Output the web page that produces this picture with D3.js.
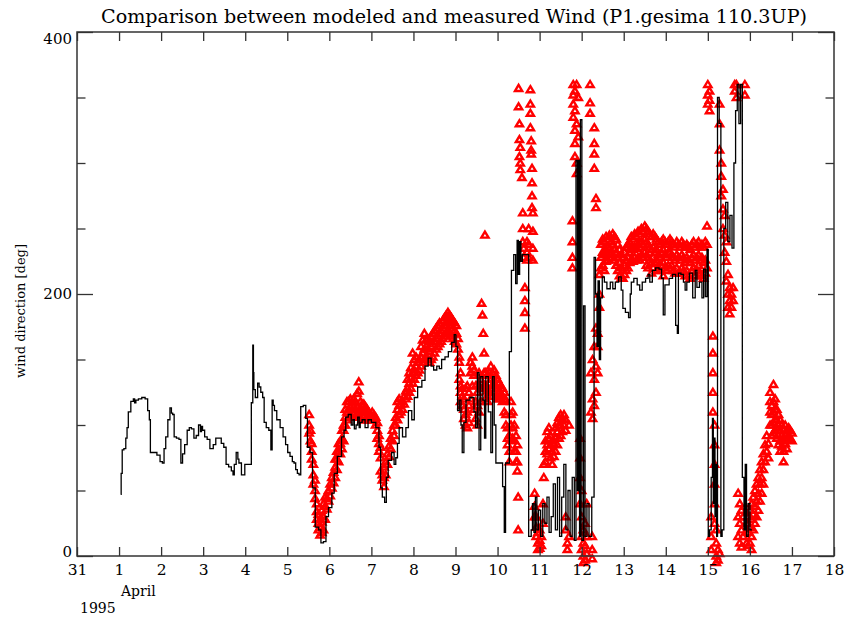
<!DOCTYPE html>
<html><head><meta charset="utf-8">
<script src="https://cdn.jsdelivr.net/npm/d3@7"></script>
<style>body{margin:0;background:#fff}svg{display:block}</style>
</head><body><svg id="c" width="846" height="622"></svg>
<script>
const titleText = "Comparison between modeled and measured Wind  (P1.gesima 110.3UP)";
const yLabelText = "wind direction [deg]";
const monthLabel = "April";
const yearLabel = "1995";
const xTickDays = [0,1,2,3,4,5,6,7,8,9,10,11,12,13,14,15,16,17,18];
const xTickLabels = ["31","1","2","3","4","5","6","7","8","9","10","11","12","13","14","15","16","17","18"];
const yMajorTicks = [0,200,400];
const yMinorTicks = [50,100,150,250,300,350];

// modeled wind direction: [day since 31 March, degrees]
const model = [
[1.04,47],[1.06,63],[1.09,81],[1.14,82],[1.18,90],[1.20,98],[1.24,110],[1.32,118],[1.36,120],[1.38,117],[1.42,119],[1.50,120],[1.58,121],[1.66,120],[1.70,111],[1.74,104],[1.75,79],[1.86,79],[1.94,77],[2.01,72],[2.05,71],[2.09,82],[2.13,91],[2.19,104],[2.23,113],[2.26,109],[2.29,108],[2.33,91],[2.40,90],[2.45,89],[2.49,71],[2.53,78],[2.59,85],[2.65,96],[2.69,98],[2.75,97],[2.81,90],[2.86,92],[2.92,100],[2.95,95],[2.97,99],[3.00,96],[3.07,91],[3.12,89],[3.20,82],[3.28,85],[3.32,90],[3.40,90],[3.46,86],[3.52,83],[3.57,70],[3.64,68],[3.70,65],[3.72,62],[3.76,70],[3.81,79],[3.84,74],[3.86,71],[3.96,62],[4.02,70],[4.07,70],[4.12,70],[4.17,117],[4.19,161],[4.20,140],[4.21,127],[4.27,121],[4.32,132],[4.34,129],[4.40,125],[4.43,121],[4.47,102],[4.53,98],[4.59,96],[4.63,81],[4.65,119],[4.68,115],[4.71,111],[4.79,104],[4.87,98],[4.93,91],[4.99,85],[5.03,79],[5.10,76],[5.14,72],[5.18,71],[5.22,66],[5.26,63],[5.30,62],[5.34,114],[5.42,115],[5.46,105],[5.50,83],[5.58,79],[5.62,52],[5.71,22],[5.78,20],[5.82,10],[5.90,11],[5.94,30],[6.02,37],[6.10,48],[6.13,63],[6.25,76],[6.33,91],[6.37,96],[6.41,106],[6.49,108],[6.55,100],[6.57,104],[6.62,97],[6.65,100],[6.70,106],[6.72,98],[6.75,102],[6.81,104],[6.89,98],[6.95,104],[7.05,102],[7.16,98],[7.20,83],[7.24,52],[7.28,45],[7.35,41],[7.36,60],[7.44,73],[7.52,79],[7.56,70],[7.60,75],[7.64,86],[7.68,98],[7.80,91],[7.84,98],[7.92,111],[8.00,104],[8.04,121],[8.16,129],[8.24,134],[8.31,145],[8.39,151],[8.45,145],[8.51,142],[8.60,145],[8.63,143],[8.71,150],[8.79,152],[8.87,156],[8.95,163],[8.99,169],[9.03,160],[9.07,111],[9.11,119],[9.15,100],[9.17,79],[9.23,102],[9.27,119],[9.42,121],[9.46,110],[9.50,98],[9.54,140],[9.58,81],[9.62,137],[9.68,119],[9.70,90],[9.74,137],[9.82,110],[9.86,79],[9.90,137],[9.94,100],[9.98,71],[10.10,71],[10.14,53],[10.18,18],[10.20,71],[10.26,71],[10.30,156],[10.36,218],[10.41,230],[10.45,208],[10.48,241],[10.51,215],[10.54,240],[10.57,225],[10.61,230],[10.69,230],[10.79,15],[10.81,20],[10.85,40],[10.88,18],[10.92,45],[10.95,20],[11.00,35],[11.05,15],[11.10,40],[11.15,25],[11.20,45],[11.25,18],[11.30,30],[11.35,55],[11.40,20],[11.45,60],[11.50,15],[11.55,45],[11.60,70],[11.65,20],[11.70,50],[11.75,15],[11.80,60],[11.85,12],[11.88,302],[11.92,50],[11.94,302],[11.96,15],[11.98,333],[12.03,12],[12.06,191],[12.10,15],[12.15,40],[12.20,15],[12.28,45],[12.31,228],[12.35,200],[12.38,160],[12.40,210],[12.44,150],[12.46,197],[12.52,213],[12.56,209],[12.64,204],[12.72,209],[12.76,204],[12.84,209],[12.92,213],[12.96,203],[13.00,189],[13.08,186],[13.15,182],[13.16,200],[13.20,209],[13.28,212],[13.36,207],[13.40,203],[13.48,209],[13.56,212],[13.60,215],[13.64,209],[13.72,218],[13.80,220],[13.88,219],[13.92,212],[13.96,184],[14.00,207],[14.04,207],[14.12,212],[14.20,215],[14.27,176],[14.28,170],[14.32,216],[14.40,215],[14.44,209],[14.48,203],[14.52,209],[14.60,216],[14.68,197],[14.72,218],[14.76,205],[14.84,209],[14.88,197],[14.92,219],[14.96,198],[15.00,234],[15.02,15],[15.06,20],[15.10,60],[15.12,105],[15.14,40],[15.16,90],[15.18,30],[15.20,70],[15.22,15],[15.24,350],[15.30,330],[15.32,15],[15.36,20],[15.40,250],[15.45,270],[15.50,240],[15.55,260],[15.60,235],[15.64,300],[15.68,340],[15.72,360],[15.76,330],[15.80,360],[15.84,60],[15.88,20],[15.90,70],[15.94,15],[15.98,40],[16.02,20],[16.05,20]
];

// measured wind direction: [day, values observed around that time...]
const measured = [
[5.52,108,100,94],[5.55,96,88],[5.58,86,80,74],[5.62,70,62,55],[5.66,58,50,44],[5.70,40,34,28],[5.74,32,25,20],[5.78,22,16,28],[5.82,18,26,35],[5.86,20,30,40],[5.90,28,38,45],[5.94,36,44],[5.98,42,50],[6.02,46,55],[6.06,52,60],[6.10,56,64],[6.14,60,68,74],[6.18,66,74,80],[6.22,72,80,86],[6.26,78,86],[6.30,82,90,96],[6.34,88,96,100],[6.38,100,106,112],[6.42,104,110,118],[6.46,106,112,118],[6.50,108,114,120],[6.54,106,112,118],[6.58,108,114,120],[6.62,106,112,118],[6.66,108,114,124],[6.70,110,126,133],[6.74,106,112,118],[6.78,104,110,116],[6.82,106,112,116],[6.86,104,110,114],[6.90,106,112],[6.94,104,110],[6.98,104,108],[7.02,106,110],[7.06,104,108],[7.10,100,106],[7.14,96,102,90],[7.18,92,86,80],[7.22,83,75,65],[7.26,62,58],[7.30,53,60,68],[7.34,62,72],[7.38,70,78],[7.42,76,84],[7.46,82,90],[7.50,88,96],[7.54,92,100],[7.58,100,106],[7.62,104,112,118],[7.66,108,115,120],[7.70,110,116],[7.74,112,118],[7.78,116,122],[7.82,120,126],[7.86,122,128,135],[7.90,125,132,140],[7.94,128,136,144],[7.98,132,140,155],[8.02,135,142,150],[8.06,138,145,152],[8.10,140,148],[8.14,142,150],[8.18,145,152,160],[8.22,148,155,165],[8.26,150,158,170],[8.30,152,160,165],[8.34,150,158,166],[8.38,148,156,164],[8.42,150,160,168],[8.46,152,162,170],[8.50,155,164,172],[8.54,158,166,174],[8.58,160,168,176],[8.62,162,170,178],[8.66,164,172],[8.70,166,174,180],[8.74,168,176,182],[8.78,170,178,184],[8.82,172,180,186],[8.86,170,178,184],[8.90,168,176,182],[8.94,166,174,180],[8.98,164,172,178],[9.02,162,170,176],[9.06,158,166],[9.09,148,152,135],[9.12,130,125,140,118],[9.16,122,115,128],[9.20,105,112,120],[9.24,100,108,128],[9.28,98,110,130],[9.32,102,115,125],[9.36,140,148,120],[9.40,145,152,130],[9.44,138,142,112],[9.48,130,118,105],[9.52,125,115,100],[9.56,130,140,110],[9.60,135,128,118],[9.62,193],[9.64,184],[9.66,170],[9.68,155,140,130],[9.70,245],[9.72,140,130,120],[9.76,138,126,118],[9.80,132,125,140],[9.84,145,135,128],[9.88,140,130,122],[9.92,142,135,125],[9.96,138,130,122],[10.00,135,128,120],[10.04,132,126,120],[10.08,130,124],[10.12,128,122,118],[10.16,125,120,110],[10.20,119,108,100],[10.24,98,90,85],[10.28,92,80,72],[10.32,118,108,100],[10.36,110,98,90],[10.40,100,88,80],[10.44,92,80,72],[10.47,85,72,65],[10.49,45,20],[10.50,357,343],[10.52,330,318,305],[10.54,312,300,295],[10.58,289],[10.60,262,250,240],[10.62,235,228],[10.65,205,195,186,174],[10.70,240,232,226],[10.74,250,238,228],[10.78,356,345,338,327],[10.80,317,310,307],[10.82,296,285,275,266],[10.84,262,248,235,226],[10.88,48,38,30],[10.92,30,22,15],[10.96,18,10,5],[11.00,12,6,20],[11.04,8,15],[11.08,25,40],[11.10,60,70],[11.14,72,80,88],[11.18,78,85,95],[11.22,82,90,98],[11.26,75,85,92],[11.30,70,80,88],[11.34,76,86],[11.38,80,90,98],[11.42,85,95,102],[11.46,90,100,106],[11.50,92,100,108],[11.54,95,105],[11.58,100,108],[11.62,96,104,30,20],[11.66,10,5],[11.70,100,15],[11.78,256,240,228,220],[11.80,360,352,345,335],[11.84,355,340,325,315,305],[11.88,360,330,300,292],[11.92,350,320],[11.96,90,75,60,40],[12.00,50,30,15,5],[12.04,20,10,0,-5],[12.08,25,8,-3],[12.12,40,15,2],[12.20,360,346,338],[12.22,140,110],[12.25,15,5,-2],[12.26,150,120,105],[12.30,327,315,307,296,160,135,115],[12.34,273,266,174,145,125],[12.38,160,140,170],[12.42,200,215,190],[12.46,238,228,220],[12.50,242,232,222],[12.54,240,230,218],[12.58,244,234,225],[12.62,242,236,226],[12.66,245,235,228],[12.70,240,232],[12.74,246,238,230],[12.78,244,234,226],[12.82,242,232,222],[12.86,238,228,218],[12.90,234,224,214],[12.94,230,220,212],[12.98,228,218,212],[13.02,232,222,215],[13.06,236,226,218],[13.10,238,228,220],[13.14,240,232,224],[13.18,244,236,226],[13.22,242,234,225],[13.26,246,236,228],[13.30,244,235,226],[13.34,248,238,228],[13.38,246,236,226],[13.42,250,240,230],[13.46,248,238,228],[13.50,252,242,232],[13.54,250,240,230,222],[13.58,248,238,228,220],[13.62,246,236,226],[13.66,244,234,224,216],[13.70,246,236,228,220],[13.74,244,232,224],[13.78,242,234,226,218],[13.82,240,230,220],[13.86,238,228,218],[13.90,240,232,222],[13.94,242,234,224,214],[13.98,240,230,220],[14.02,238,228,218],[14.06,240,232,222],[14.10,242,232,220],[14.14,240,230,222],[14.18,238,228,218],[14.22,236,226,216],[14.26,240,230,220],[14.30,238,228,216],[14.34,236,226,216],[14.38,240,230,220],[14.42,238,228,218],[14.46,236,224,214],[14.50,238,228,218],[14.54,236,226,214],[14.58,234,224,212],[14.62,238,228,218],[14.66,240,230,220],[14.70,236,226,214],[14.74,238,228,218],[14.78,240,230,222],[14.82,236,226,216],[14.86,238,228,214],[14.90,236,224,212],[14.94,240,226,216],[14.98,252,238,220],[15.00,360,352,345],[15.04,355,348,340],[15.08,30,15,5],[15.12,168,155,140,125,110],[15.16,100,85,70,55,40,25],[15.20,20,10,0,-5],[15.24,5,-3],[15.28,345,330,310,2],[15.32,300,290,275],[15.36,280,265,250],[15.40,260,245,232],[15.44,240,225,210],[15.48,215,200,190],[15.52,205,195,185],[15.56,200,190],[15.60,205,195],[15.64,360,355],[15.68,360,350],[15.72,48,30,15],[15.76,40,25,10],[15.80,35,20,7],[15.84,30,15],[15.88,360,352],[15.92,25,10],[15.96,30,18,8],[16.00,35,22,10],[16.04,40,28,15,5],[16.08,45,32,20],[16.12,50,38,25],[16.16,55,42,30],[16.20,60,48,35],[16.24,66,55,42],[16.28,72,60,48],[16.32,78,66,55],[16.36,85,72],[16.40,92,80],[16.44,86,75],[16.48,110,118,125,100],[16.52,115,108,100,92],[16.56,131,118,110,102,94],[16.60,120,112,104,96],[16.64,112,104,98,90],[16.68,108,100,92,85],[16.72,104,96,88,80],[16.76,100,92,84],[16.80,96,88,80,72],[16.84,100,92,86],[16.88,96,90,82],[16.92,98,92],[16.96,96,90],[17.00,94,88]
];

const L = 77, R = 834, T = 32, B = 556;
const x = d3.scaleLinear().domain([0, 18]).range([L, R]);
const y = d3.scaleLinear().domain([0, 400]).range([B, T]);
const svg = d3.select("#c");
const font = "'DejaVu Serif', 'Liberation Serif', serif";
const axisColor = "#333";

// measured points (red triangles)
const points = [];
measured.forEach(r => { for (let i = 1; i < r.length; i++) points.push([r[0], r[i]]); });
const tri = "M0,-3.4L3.6,2.6L-3.6,2.6Z";
svg.append("g").selectAll("path").data(points).join("path")
  .attr("d", tri)
  .attr("transform", d => `translate(${x(d[0])},${y(d[1])})`)
  .attr("fill", "none").attr("stroke", "#ff0000").attr("stroke-width", 2.4)
  .attr("stroke-linejoin", "miter");

// modeled line (steps)
svg.append("path").datum(model)
  .attr("d", d3.line().x(d => x(d[0])).y(d => y(d[1])).curve(d3.curveStep))
  .attr("fill", "none").attr("stroke", "#000").attr("stroke-width", 1.3);

// axes
function styleAxis(g) {
  g.select(".domain").remove();
  g.selectAll(".tick line").attr("stroke", axisColor).attr("stroke-width", 1.3);
  g.selectAll("text").attr("font-family", font).attr("fill", "#000");
}
const bottom = svg.append("g").attr("transform", `translate(0,${B})`)
  .call(d3.axisBottom(x).tickValues(xTickDays).tickFormat((d, i) => xTickLabels[i]).tickSize(-9).tickPadding(8))
  .call(styleAxis);
bottom.selectAll("text").attr("font-size", 15.5).attr("dy", "0.71em");
svg.append("g").attr("transform", `translate(0,${T})`)
  .call(d3.axisTop(x).tickValues(xTickDays).tickFormat("").tickSize(-9)).call(styleAxis);

const yOff = {0: -5, 200: -1, 400: 6};
const left = svg.append("g").attr("transform", `translate(${L},0)`)
  .call(d3.axisLeft(y).tickValues(yMajorTicks).tickFormat(d3.format("d")).tickSize(-16).tickPadding(6))
  .call(styleAxis);
left.selectAll("text").attr("font-size", 15).attr("dy", "0.35em").attr("y", d => yOff[d]).attr("x", -5);
svg.append("g").attr("transform", `translate(${L},0)`)
  .call(d3.axisLeft(y).tickValues(yMinorTicks).tickFormat("").tickSize(-8.5)).call(styleAxis);
svg.append("g").attr("transform", `translate(${R},0)`)
  .call(d3.axisRight(y).tickValues(yMajorTicks).tickFormat("").tickSize(-16)).call(styleAxis);
svg.append("g").attr("transform", `translate(${R},0)`)
  .call(d3.axisRight(y).tickValues(yMinorTicks).tickFormat("").tickSize(-8.5)).call(styleAxis);

// frame
svg.append("rect").attr("x", L).attr("y", T).attr("width", R - L).attr("height", B - T)
  .attr("fill", "none").attr("stroke", axisColor).attr("stroke-width", 1.5);

// texts
svg.append("text").attr("x", 454).attr("y", 23).attr("text-anchor", "middle")
  .attr("font-family", font).attr("font-size", 19)
  .attr("textLength", 706).attr("lengthAdjust", "spacingAndGlyphs").text(titleText);
svg.append("text").attr("transform", "translate(25,311) rotate(-90)").attr("text-anchor", "middle")
  .attr("font-family", font).attr("font-size", 13).text(yLabelText);
svg.append("text").attr("x", 121).attr("y", 596).attr("font-family", font).attr("font-size", 14).text(monthLabel);
svg.append("text").attr("x", 80).attr("y", 613).attr("font-family", font).attr("font-size", 14).text(yearLabel);
</script></body></html>
